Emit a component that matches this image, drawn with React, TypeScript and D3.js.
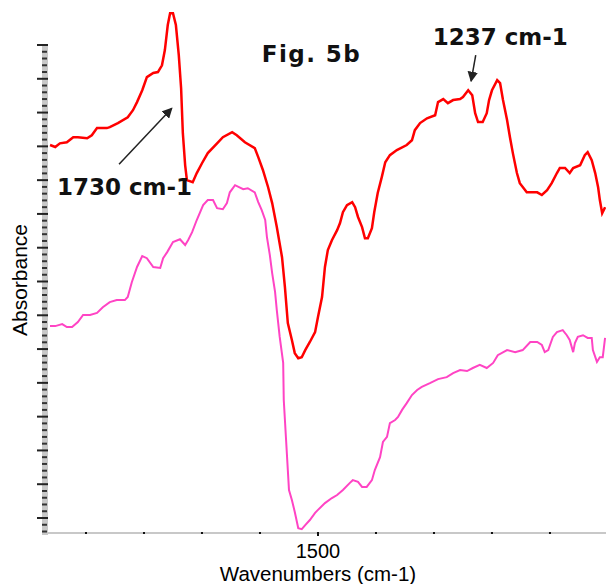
import React from 'react';
import * as d3 from 'd3';

// ---- data (wavenumbers in cm-1, absorbance in arbitrary units) ----
const redWavenumbers = [1962,1953,1945,1933,1922,1914,1898,1890,1881,1864,1859,1845,1828,1819,1812,1803,1795,1784,1776,1769,1764,1759,1755,1750,1745,1740,1736,1733,1729,1726,1716,1709,1700,1690,1674,1664,1648,1640,1626,1609,1603,1595,1586,1579,1571,1562,1557,1552,1545,1540,1534,1528,1522,1514,1505,1500,1493,1488,1483,1476,1467,1462,1457,1450,1441,1436,1431,1424,1419,1414,1407,1403,1397,1390,1384,1376,1364,1347,1338,1333,1324,1312,1298,1293,1284,1276,1267,1255,1250,1241,1234,1229,1224,1216,1209,1205,1200,1191,1186,1181,1174,1169,1164,1157,1152,1140,1122,1114,1105,1097,1088,1083,1074,1066,1060,1048,1040,1035,1028,1022,1017,1014,1010,1005];
const redAbsorbance = [1.104,1.098,1.109,1.112,1.127,1.127,1.124,1.133,1.154,1.154,1.157,1.169,1.186,1.207,1.231,1.266,1.305,1.317,1.320,1.340,1.385,1.459,1.494,1.494,1.459,1.370,1.272,1.139,1.044,1.000,0.994,1.021,1.050,1.080,1.109,1.127,1.142,1.133,1.112,1.095,1.068,1.030,0.979,0.932,0.861,0.772,0.683,0.577,0.527,0.488,0.473,0.476,0.497,0.521,0.550,0.595,0.654,0.743,0.793,0.822,0.852,0.873,0.905,0.926,0.935,0.920,0.891,0.861,0.828,0.828,0.858,0.905,0.962,1.009,1.053,1.074,1.089,1.104,1.118,1.148,1.169,1.183,1.192,1.231,1.240,1.228,1.237,1.240,1.246,1.266,1.251,1.198,1.172,1.172,1.198,1.237,1.266,1.296,1.287,1.237,1.178,1.127,1.080,1.021,0.991,0.964,0.964,0.956,0.970,0.991,1.021,1.036,1.036,1.021,1.036,1.044,1.074,1.083,1.059,1.021,0.979,0.941,0.902,0.920];

const pinkWavenumbers = [1962,1953,1941,1933,1924,1914,1905,1893,1881,1871,1859,1847,1833,1828,1821,1812,1803,1795,1784,1772,1767,1760,1750,1738,1729,1724,1717,1709,1698,1690,1681,1674,1664,1657,1652,1643,1629,1621,1609,1603,1597,1591,1588,1583,1579,1574,1571,1566,1560,1559,1555,1552,1550,1545,1540,1534,1528,1522,1514,1505,1500,1488,1476,1467,1457,1445,1440,1431,1424,1416,1407,1402,1393,1388,1381,1376,1367,1362,1355,1347,1338,1329,1321,1307,1293,1278,1267,1255,1243,1233,1221,1209,1198,1190,1174,1160,1147,1134,1122,1114,1109,1103,1095,1088,1078,1071,1066,1060,1057,1052,1043,1035,1028,1026,1019,1014,1009,1005];
const pinkAbsorbance = [0.568,0.568,0.574,0.565,0.565,0.580,0.601,0.601,0.607,0.624,0.639,0.645,0.645,0.654,0.698,0.743,0.775,0.769,0.743,0.740,0.769,0.787,0.817,0.825,0.808,0.822,0.846,0.882,0.926,0.941,0.941,0.917,0.914,0.932,0.964,0.985,0.973,0.976,0.964,0.935,0.911,0.882,0.831,0.778,0.725,0.669,0.615,0.536,0.459,0.349,0.231,0.142,0.083,0.053,0.018,-0.030,-0.033,-0.021,-0.006,0.015,0.024,0.044,0.059,0.068,0.083,0.104,0.112,0.107,0.092,0.092,0.112,0.142,0.180,0.225,0.240,0.281,0.290,0.299,0.320,0.340,0.364,0.379,0.388,0.399,0.411,0.417,0.429,0.438,0.435,0.444,0.453,0.444,0.459,0.482,0.497,0.491,0.497,0.521,0.521,0.512,0.491,0.497,0.536,0.550,0.556,0.541,0.527,0.491,0.518,0.536,0.541,0.533,0.533,0.497,0.462,0.476,0.476,0.533];

const xTickValues = [1900, 1800, 1700, 1600, 1500, 1400, 1300, 1200, 1100];
const xLabelValues = [1500];
const yMajorTicks = [0, 0.1, 0.2, 0.3, 0.4, 0.5, 0.6, 0.7, 0.8, 0.9, 1.0, 1.1, 1.2, 1.3, 1.4];
const yMinorStep = 0.02;

const titleText = 'Fig. 5b';
const xAxisTitle = 'Wavenumbers (cm-1)';
const yAxisTitle = 'Absorbance';
const annotationLabels = ['1730 cm-1', '1237 cm-1'];
const annotationTips = [[1752, 1.213], [1236, 1.293]];
const annotationTails = [[1843, 1.047], [1228, 1.370]];
const annotationTextAt = [[1950, 0.956], [1302, 1.399]];
const titleAt = [1597, 1.349];

const W = 606;
const H = 584;
const LEFT = 48;
const RIGHT = 606;
const TOP = 45;
const BOTTOM = 533;

export default function App() {
  const x = d3.scaleLinear().domain([1965.5, 1003.4]).range([LEFT, RIGHT]);
  const y = d3.scaleLinear().domain([-0.0444, 1.4]).range([BOTTOM, TOP]);

  const red = redWavenumbers.map((w, i) => ({ w, a: redAbsorbance[i] }));
  const pink = pinkWavenumbers.map((w, i) => ({ w, a: pinkAbsorbance[i] }));
  const line = d3
    .line<{ w: number; a: number }>()
    .x((d) => x(d.w))
    .y((d) => y(d.a))
    .curve(d3.curveLinear);

  const minorTicks = d3
    .range(-0.04, 1.4001, yMinorStep)
    .filter((v) => Math.abs(v * 10 - Math.round(v * 10)) > 1e-6);

  const boldFont = "'DejaVu Sans', sans-serif";
  const axisFont = "'Liberation Sans', Arial, sans-serif";

  return (
    <svg
      width={W}
      height={H}
      style={{ position: 'absolute', left: 0, top: 0, background: '#fff' }}
    >
      <defs>
        <marker id="ah" viewBox="0 0 10 10" refX="9" refY="5" markerWidth="7" markerHeight="7" orient="auto">
          <path d="M0,0 L10,5 L0,10 z" fill="#222" />
        </marker>
      </defs>
      {/* axes */}
      <rect x={42} y={TOP} width={6} height={BOTTOM - TOP + 2} fill="#c8c8c8" />
      <rect x={LEFT} y={BOTTOM - 1} width={RIGHT - LEFT} height={2} fill="#c8c8c8" />
      {yMajorTicks.map((v) => (
        <line key={'M' + v} x1={37} x2={48} y1={y(v)} y2={y(v)} stroke="#222" strokeWidth={2} />
      ))}
      {minorTicks.map((v) => (
        <line key={'m' + v.toFixed(3)} x1={42} x2={47} y1={y(v)} y2={y(v)} stroke="#333" strokeWidth={2} />
      ))}
      {xTickValues.map((v) => (
        <rect key={'x' + v} x={x(v) - 1} y={BOTTOM - 1} width={2} height={2} fill="#111" />
      ))}
      {xLabelValues.map((v) => (
        <g key={'l' + v}>
          <line x1={x(v)} x2={x(v)} y1={BOTTOM - 1} y2={BOTTOM + 3} stroke="#111" strokeWidth={2} />
          <text x={x(v)} y={558} textAnchor="middle" fontFamily={axisFont} fontSize={20} fill="#000">
            {v}
          </text>
        </g>
      ))}
      <text x={x(1500)} y={581} textAnchor="middle" fontFamily={axisFont} fontSize={20.5} fill="#000">
        {xAxisTitle}
      </text>
      <text
        transform={`translate(27,280) rotate(-90)`}
        textAnchor="middle"
        fontFamily={axisFont}
        fontSize={21}
        fill="#000"
      >
        {yAxisTitle}
      </text>

      {/* spectra */}
      <path d={line(pink) || ''} fill="none" stroke="#ff44c4" strokeWidth={2} strokeLinejoin="miter" />
      <path d={line(red) || ''} fill="none" stroke="#ff0000" strokeWidth={2.5} strokeLinejoin="miter" />

      {/* annotations */}
      {annotationLabels.map((t, i) => (
        <g key={t}>
          <line
            x1={x(annotationTails[i][0])}
            y1={y(annotationTails[i][1])}
            x2={x(annotationTips[i][0])}
            y2={y(annotationTips[i][1])}
            stroke="#222"
            strokeWidth={1.5}
            markerEnd="url(#ah)"
          />
          <text
            x={x(annotationTextAt[i][0])}
            y={y(annotationTextAt[i][1])}
            fontFamily={boldFont}
            fontWeight="bold"
            fontSize={23}
            textLength={135}
            lengthAdjust="spacingAndGlyphs"
            fill="#111"
          >
            {t}
          </text>
        </g>
      ))}
      <text
        x={x(titleAt[0])}
        y={y(titleAt[1])}
        fontFamily={boldFont}
        fontWeight="bold"
        fontSize={23}
        textLength={98}
        lengthAdjust="spacing"
        fill="#111"
      >
        {titleText}
      </text>
    </svg>
  );
}
